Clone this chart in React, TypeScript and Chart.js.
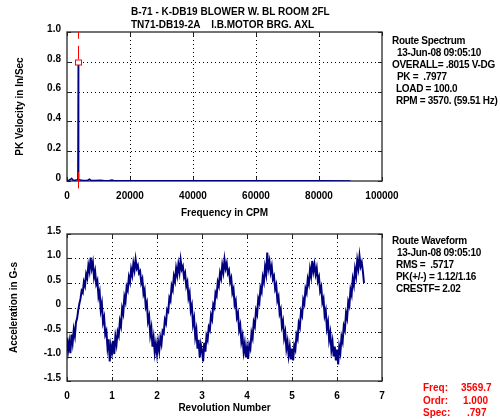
import React, { useEffect, useRef } from 'react';
import { Chart, registerables } from 'chart.js';

Chart.register(...registerables);

const FONT_FAMILY = '"Liberation Sans", Arial, Helvetica, sans-serif';
const LINE_COLOR = '#000080';

// ---- Route spectrum: frequency (CPM) vs PK velocity (In/Sec) ----
const spectrumFreq = [
  0, 500, 1000, 1500, 1800, 2300, 2900, 3450, 3570, 3690, 4200, 5000, 5800, 6600,
  7140, 7600, 8800, 10700, 12000, 13500, 14280, 15000, 18000, 25000, 35000, 50000,
  65000, 80000, 90000,
];
const spectrumAmp = [
  0.0, 0.004, 0.01, 0.018, 0.008, 0.004, 0.006, 0.01, 0.797, 0.01, 0.006, 0.004, 0.003, 0.005,
  0.012, 0.004, 0.003, 0.005, 0.002, 0.003, 0.007, 0.002, 0.002, 0.001, 0.001, 0.001,
  0.001, 0.001, 0.0,
];
const freqTicks = [0, 20000, 40000, 60000, 80000, 100000];
const velocityTicks = [0, 0.2, 0.4, 0.6, 0.8, 1.0];

// Cursor readout
const cursorFreq = 3569.7;
const cursorOrder = 1.0;
const cursorSpec = 0.797;

// ---- Route waveform: acceleration (G-s) sampled every 0.025 revolution ----
const revPerSample = 0.025;
const waveformG = [
  // rev 0
  -0.62, -0.88, -0.7, -0.93, -0.55, -0.72, -0.45, -0.58, -0.3, -0.22,
  -0.05, 0.08, 0.18, 0.34, 0.3, 0.52, 0.44, 0.68, 0.6, 0.86,
  0.74, 1.02, 0.8, 0.92, 0.62, 0.74, 0.48, 0.55, 0.22, 0.32,
  -0.05, 0.08, -0.3, -0.2, -0.55, -0.48, -0.82, -0.65, -1.1, -0.78,
  // rev 1
  -0.92, -0.68, -0.95, -0.6, -0.75, -0.5, -0.58, -0.28, -0.38, -0.02,
  -0.12, 0.22, 0.12, 0.42, 0.35, 0.62, 0.52, 0.78, 0.66, 0.9,
  0.76, 0.98, 0.8, 0.86, 0.7, 0.74, 0.5, 0.58, 0.28, 0.36,
  0.02, 0.1, -0.28, -0.18, -0.56, -0.42, -0.8, -0.62, -0.92, -0.74,
  // rev 2
  -0.95, -0.7, -0.88, -0.62, -0.74, -0.48, -0.52, -0.25, -0.32, -0.04,
  -0.08, 0.2, 0.14, 0.44, 0.36, 0.64, 0.54, 0.8, 0.66, 0.88,
  0.72, 0.97, 0.78, 0.84, 0.62, 0.7, 0.44, 0.52, 0.2, 0.3,
  -0.06, 0.04, -0.34, -0.22, -0.6, -0.46, -0.84, -0.66, -1.02, -0.76,
  // rev 3
  -0.88, -1.1, -0.72, -0.9, -0.58, -0.66, -0.4, -0.46, -0.16, -0.24,
  0.06, 0.0, 0.3, 0.24, 0.52, 0.44, 0.7, 0.6, 0.86, 0.72,
  0.98, 0.8, 0.9, 0.7, 0.76, 0.52, 0.6, 0.3, 0.38, 0.06,
  0.14, -0.2, -0.12, -0.46, -0.36, -0.7, -0.58, -0.9, -0.74, -1.02,
  // rev 4
  -0.82, -1.05, -0.76, -0.84, -0.52, -0.62, -0.3, -0.38, -0.06, -0.14,
  0.18, 0.1, 0.4, 0.32, 0.62, 0.52, 0.82, 0.68, 1.12, 0.8,
  0.94, 0.72, 0.84, 0.58, 0.64, 0.38, 0.46, 0.14, 0.22, -0.12,
  -0.04, -0.38, -0.28, -0.62, -0.5, -0.84, -0.7, -0.98, -0.8, -1.06,
  // rev 5
  -0.84, -1.08, -0.78, -0.86, -0.56, -0.64, -0.32, -0.4, -0.08, -0.16,
  0.16, 0.08, 0.38, 0.3, 0.58, 0.48, 0.78, 0.64, 0.95, 0.74,
  0.88, 0.68, 0.8, 0.54, 0.62, 0.34, 0.42, 0.1, 0.18, -0.16,
  -0.06, -0.42, -0.3, -0.66, -0.52, -0.86, -0.7, -1.0, -0.8, -1.08,
  // rev 6
  -0.86, -1.16, -0.8, -0.92, -0.6, -0.7, -0.38, -0.46, -0.12, -0.22,
  0.12, 0.04, 0.36, 0.26, 0.58, 0.46, 0.78, 0.64, 0.96, 0.8,
  1.05, 0.84, 0.92, 0.74, 0.5,
];
const revTicks = [0, 1, 2, 3, 4, 5, 6, 7];
const accelTicks = [-1.5, -1.0, -0.5, 0, 0.5, 1.0, 1.5];

const titleLines = ['B-71 - K-DB19 BLOWER W. BL ROOM 2FL', 'TN71-DB19-2A    I.B.MOTOR BRG. AXL'];
// [text, indent]
const spectrumInfo: [string, number][] = [
  ['Route Spectrum', 0],
  ['13-Jun-08 09:05:10', 5],
  ['OVERALL= .8015 V-DG', 0],
  ['PK =  .7977', 5],
  ['LOAD = 100.0', 4],
  ['RPM = 3570. (59.51 Hz)', 4],
];
const waveformInfo: [string, number][] = [
  ['Route Waveform', 0],
  ['13-Jun-08 09:05:10', 5],
  ['RMS =  .5717', 4],
  ['PK(+/-) = 1.12/1.16', 4],
  ['CRESTF= 2.02', 4],
];

const W = 500;
const H = 419;
const TOP_H = 222;
const BOTTOM_H = H - TOP_H;
const PLOT_LEFT = 67;
const PLOT_RIGHT = 382;

const tickFont = { family: FONT_FAMILY, size: 10, weight: 'bold' as const };

const fmt1 = (v: number) => (v === 0 ? '0' : v.toFixed(1));

// Dotted grid, axis frame and short inward tick marks, drawn beneath the data
const framePlugin = {
  id: 'frame',
  beforeDatasetsDraw(chart: any) {
    const { ctx, chartArea: a, scales } = chart;
    const xs = scales.x.ticks.map((t: any) => Math.round(scales.x.getPixelForValue(t.value)) + 0.5);
    const ys = scales.y.ticks.map((t: any) => Math.round(scales.y.getPixelForValue(t.value)) + 0.5);
    ctx.save();
    ctx.strokeStyle = '#000';
    ctx.lineWidth = 1;
    ctx.setLineDash([1, 3]);
    ctx.beginPath();
    for (const px of xs) {
      if (px <= a.left + 2 || px >= a.right - 2) continue;
      ctx.moveTo(px, a.top);
      ctx.lineTo(px, a.bottom);
    }
    for (const py of ys) {
      if (py <= a.top + 2 || py >= a.bottom - 2) continue;
      ctx.moveTo(a.left, py);
      ctx.lineTo(a.right, py);
    }
    ctx.stroke();
    ctx.setLineDash([]);
    ctx.strokeStyle = '#444';
    ctx.lineWidth = 1.5;
    ctx.strokeRect(a.left, a.top, a.right - a.left, a.bottom - a.top);
    ctx.lineWidth = 1;
    ctx.strokeStyle = '#222';
    ctx.beginPath();
    for (const py of ys) {
      ctx.moveTo(a.left, py);
      ctx.lineTo(a.left + 4, py);
      ctx.moveTo(a.right, py);
      ctx.lineTo(a.right - 4, py);
    }
    for (const px of xs) {
      ctx.moveTo(px, a.top);
      ctx.lineTo(px, a.top + 4);
      ctx.moveTo(px, a.bottom);
      ctx.lineTo(px, a.bottom - 4);
    }
    ctx.stroke();
    ctx.restore();
  },
};

// Red cursor at the running-speed peak
const cursorPlugin = {
  id: 'cursor',
  afterDatasetsDraw(chart: any) {
    const { ctx, scales } = chart;
    const x = scales.x;
    const y = scales.y;
    const px = Math.round(x.getPixelForValue(cursorFreq)) + 0.5;
    ctx.save();
    ctx.strokeStyle = '#ff0000';
    ctx.lineWidth = 1;
    const seg = (a: number, b: number) => {
      ctx.beginPath();
      ctx.moveTo(px, y.getPixelForValue(a));
      ctx.lineTo(px, y.getPixelForValue(b));
      ctx.stroke();
    };
    seg(1.0, 0.955);
    seg(cursorSpec + 0.02, cursorSpec + 0.11);
    seg(0.06, -0.05);
    const py = Math.round(y.getPixelForValue(cursorSpec)) + 0.5;
    ctx.fillStyle = '#ffffff';
    ctx.fillRect(px - 3, py - 2.5, 6, 5);
    ctx.strokeRect(px - 3, py - 2.5, 6, 5);
    ctx.restore();
  },
};

function makeScales(opts: {
  xTicks: number[];
  yTicks: number[];
  xMin: number;
  xMax: number;
  yMin: number;
  yMax: number;
  xTitle: string;
  yTitle: string;
  xFmt: (v: number) => string;
  yFmt: (v: number) => string;
  xHeight: number;
  yTitlePad: number;
  xTitlePad: number;
}) {
  const grid = { display: false, drawTicks: false };
  const border = { display: false };
  return {
    x: {
      type: 'linear' as const,
      min: opts.xMin,
      max: opts.xMax,
      afterBuildTicks: (s: any) => {
        s.ticks = opts.xTicks.map((v) => ({ value: v }));
      },
      ticks: {
        font: tickFont,
        color: '#000',
        padding: 9,
        maxRotation: 0,
        autoSkip: false,
        callback: (v: any) => opts.xFmt(Number(v)),
      },
      grid,
      border,
      title: {
        display: true,
        text: opts.xTitle,
        font: tickFont,
        color: '#000',
        padding: { top: 0, bottom: opts.xTitlePad },
      },
      afterFit: (s: any) => {
        s.height = opts.xHeight;
      },
    },
    y: {
      type: 'linear' as const,
      min: opts.yMin,
      max: opts.yMax,
      afterBuildTicks: (s: any) => {
        s.ticks = opts.yTicks.map((v) => ({ value: v }));
      },
      ticks: {
        font: tickFont,
        color: '#000',
        padding: 6,
        labelOffset: -3,
        autoSkip: false,
        callback: (v: any) => opts.yFmt(Number(v)),
      },
      grid,
      border,
      title: {
        display: true,
        text: opts.yTitle,
        font: tickFont,
        color: '#000',
        padding: { top: opts.yTitlePad, bottom: 0 },
      },
      afterFit: (s: any) => {
        s.width = PLOT_LEFT;
      },
    },
  };
}

function Text({
  x,
  y,
  text,
  color = '#000',
  spacing = 0,
}: {
  x: number;
  y: number;
  text: string;
  color?: string;
  spacing?: number;
}) {
  return (
    <div
      style={{
        position: 'absolute',
        left: x,
        top: y - 6,
        font: `bold 10px ${FONT_FAMILY}`,
        lineHeight: '12px',
        whiteSpace: 'pre',
        letterSpacing: spacing,
        color,
      }}
    >
      {text}
    </div>
  );
}

export default function App() {
  const topRef = useRef<HTMLCanvasElement>(null);
  const bottomRef = useRef<HTMLCanvasElement>(null);

  useEffect(() => {
    const spectrum = new Chart(topRef.current!, {
      type: 'line',
      data: {
        datasets: [
          {
            data: spectrumFreq.map((f, i) => ({ x: f, y: spectrumAmp[i] })),
            borderColor: LINE_COLOR,
            borderWidth: 1.5,
            pointRadius: 0,
            tension: 0,
          },
        ],
      },
      options: {
        animation: false,
        responsive: false,
        maintainAspectRatio: false,
        devicePixelRatio: 1,
        layout: { padding: { top: 32, right: W - PLOT_RIGHT, left: 0, bottom: 0 } },
        plugins: { legend: { display: false }, tooltip: { enabled: false } },
        scales: makeScales({
          xTicks: freqTicks,
          yTicks: velocityTicks,
          xMin: 0,
          xMax: 100000,
          yMin: 0,
          yMax: 1,
          xTitle: 'Frequency in CPM',
          yTitle: 'PK Velocity in In/Sec',
          xFmt: (v) => String(v),
          yFmt: fmt1,
          xHeight: TOP_H - 181,
          yTitlePad: 14,
          xTitlePad: 3,
        }) as any,
      },
      plugins: [framePlugin, cursorPlugin],
    });

    const waveform = new Chart(bottomRef.current!, {
      type: 'line',
      data: {
        datasets: [
          {
            data: waveformG.map((g, i) => ({ x: i * revPerSample, y: g })),
            borderColor: LINE_COLOR,
            borderWidth: 2,
            pointRadius: 0,
            tension: 0,
          },
        ],
      },
      options: {
        animation: false,
        responsive: false,
        maintainAspectRatio: false,
        devicePixelRatio: 1,
        layout: { padding: { top: 10, right: W - PLOT_RIGHT, left: 0, bottom: 0 } },
        plugins: { legend: { display: false }, tooltip: { enabled: false } },
        scales: makeScales({
          xTicks: revTicks,
          yTicks: accelTicks,
          xMin: 0,
          xMax: 7,
          yMin: -1.5,
          yMax: 1.5,
          xTitle: 'Revolution Number',
          yTitle: 'Acceleration in G-s',
          xFmt: (v) => String(v),
          yFmt: fmt1,
          xHeight: BOTTOM_H - 159,
          yTitlePad: 8,
          xTitlePad: 5,
        }) as any,
      },
      plugins: [framePlugin],
    });

    return () => {
      spectrum.destroy();
      waveform.destroy();
    };
  }, []);

  return (
    <div style={{ position: 'fixed', left: 0, top: 0, width: W, height: H, background: '#fff', overflow: 'hidden' }}>
      <canvas
        ref={topRef}
        width={W}
        height={TOP_H}
        style={{ position: 'absolute', left: 0, top: 0, width: W, height: TOP_H }}
      />
      <canvas
        ref={bottomRef}
        width={W}
        height={BOTTOM_H}
        style={{ position: 'absolute', left: 0, top: TOP_H, width: W, height: BOTTOM_H }}
      />
      <Text x={131} y={12} text={titleLines[0]} />
      <Text x={131} y={25} text={titleLines[1]} />
      {spectrumInfo.map(([t, indent], i) => (
        <Text key={'s' + i} x={392 + indent} y={41 + i * 12} text={t} spacing={-0.3} />
      ))}
      {waveformInfo.map(([t, indent], i) => (
        <Text key={'w' + i} x={392 + indent} y={241 + i * 12} text={t} spacing={-0.3} />
      ))}
      <Text x={423} y={388} text="Freq:" color="#ff0000" />
      <Text x={461} y={388} text={cursorFreq.toFixed(1)} color="#ff0000" />
      <Text x={423} y={401} text="Ordr:" color="#ff0000" />
      <Text x={463} y={401} text={cursorOrder.toFixed(3)} color="#ff0000" />
      <Text x={423} y={413} text="Spec:" color="#ff0000" />
      <Text x={467} y={413} text={cursorSpec.toFixed(3).replace(/^0/, '')} color="#ff0000" />
    </div>
  );
}
